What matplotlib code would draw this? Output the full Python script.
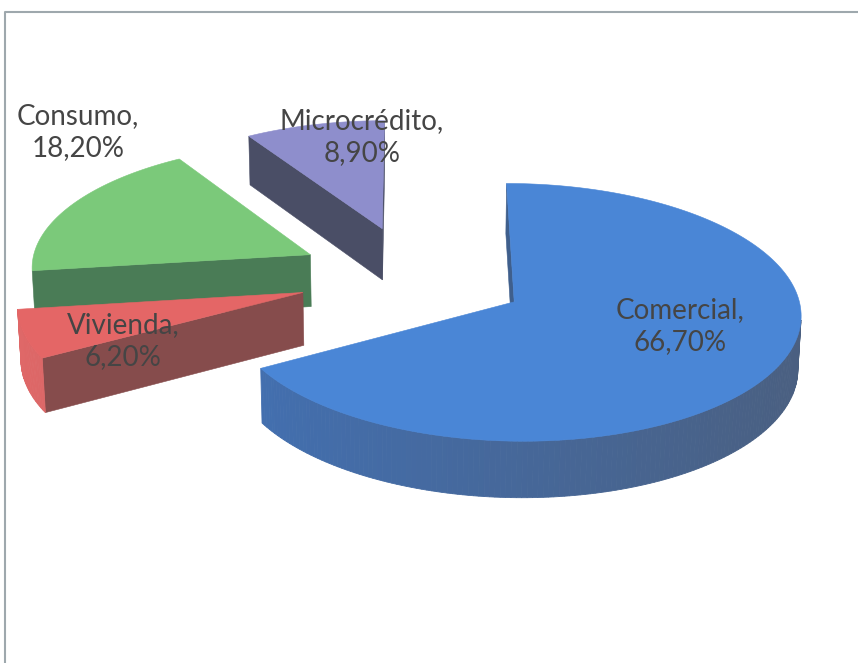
import numpy as np
import matplotlib.pyplot as plt
from matplotlib.colors import to_rgb
from matplotlib.patches import Polygon

# cartera por tipo de crédito (%)
categories = ['Comercial', 'Vivienda', 'Consumo', 'Microcrédito']
shares = [66.7, 6.2, 18.2, 8.9]
pct_labels = ['66,70%', '6,20%', '18,20%', '8,90%']

top_colors = ['#4a86d6', '#e46666', '#7bc97a', '#8e8ecc']
face_colors = ['#3f5f8c', '#864c4c', '#4a7c56', '#4a4e66']
rim_dark = ['#4a5f80', '#a05555', '#4a7c56', '#4a4e66']
rim_light = ['#4270b2', '#e06868', '#6fb86f', '#7c7cb8']
label_pos = [(680, 326), (123, 341), (78, 132), (362, 137)]

# 3D view
elev = np.radians(26.2)
dist = 11.2
focal = 280.5 * dist
thick = 0.21
explode = 0.41
cx, cy = 413, 276
cam = np.array([0.0, -dist * np.cos(elev), dist * np.sin(elev)])


def project(x, y, z):
    depth = dist + y * np.cos(elev) - z * np.sin(elev)
    u = y * np.sin(elev) + z * np.cos(elev)
    return cx + focal * x / depth, cy - focal * u / depth


def facing(normal, point):
    return np.dot(normal, cam - point) > 0


fig = plt.figure(figsize=(8.67, 6.63), dpi=100)
ax = fig.add_axes([0, 0, 1, 1])
ax.set_xlim(0, 867)
ax.set_ylim(663, 0)
ax.axis('off')

# slice angles: start at 12 o'clock, clockwise
ends = 90 - 360 * np.cumsum(shares) / 100
starts = np.concatenate([[90], ends[:-1]])

slices = []
for i in range(len(shares)):
    a_hi, a_lo = np.radians(starts[i]), np.radians(ends[i])
    mid = (a_hi + a_lo) / 2
    ox, oy = explode * np.cos(mid), explode * np.sin(mid)
    span = a_hi - a_lo
    r_c = 2 / 3 * np.sin(span / 2) / (span / 2)
    depth_key = oy + r_c * np.sin(mid)
    slices.append((depth_key, i, a_lo, a_hi, ox, oy))

# far slices first
slices.sort(key=lambda s: -s[0])

for _, i, a_lo, a_hi, ox, oy in slices:
    n = max(int(np.degrees(a_hi - a_lo) / 1.0), 4)
    t = np.linspace(a_lo, a_hi, n + 1)
    ax_top, ay_top = project(ox + np.cos(t), oy + np.sin(t), 0)
    ax_bot, ay_bot = project(ox + np.cos(t), oy + np.sin(t), -thick)
    tip_top = project(ox, oy, 0)
    tip_bot = project(ox, oy, -thick)
    tip3 = np.array([ox, oy, -thick / 2])

    # radial faces
    for ang, sgn in ((a_lo, -1), (a_hi, 1)):
        normal = np.array([np.cos(ang + sgn * np.pi / 2), np.sin(ang + sgn * np.pi / 2), 0])
        if facing(normal, tip3):
            ex, ey = np.cos(ang), np.sin(ang)
            p1 = project(ox + ex, oy + ey, 0)
            p2 = project(ox + ex, oy + ey, -thick)
            ax.add_patch(Polygon([tip_top, p1, p2, tip_bot], closed=True,
                                 facecolor=face_colors[i], edgecolor=face_colors[i],
                                 linewidth=0.4))

    # outer rim, shaded by where it faces
    dark = np.array(to_rgb(rim_dark[i]))
    light = np.array(to_rgb(rim_light[i]))
    for k in range(n):
        tm = (t[k] + t[k + 1]) / 2
        normal = np.array([np.cos(tm), np.sin(tm), 0])
        pt = np.array([ox + np.cos(tm), oy + np.sin(tm), -thick / 2])
        if not facing(normal, pt):
            continue
        w = np.clip(0.5 - 0.5 * np.cos(tm), 0, 1)
        col = dark + w * (light - dark)
        quad = [(ax_top[k], ay_top[k]), (ax_top[k + 1], ay_top[k + 1]),
                (ax_bot[k + 1], ay_bot[k + 1]), (ax_bot[k], ay_bot[k])]
        ax.add_patch(Polygon(quad, closed=True, facecolor=col, edgecolor=col,
                             linewidth=0.6))

    # top surface
    top = [tip_top] + list(zip(ax_top, ay_top))
    ax.add_patch(Polygon(top, closed=True, facecolor=top_colors[i],
                         edgecolor=top_colors[i], linewidth=0.4))

for i, name in enumerate(categories):
    x, y = label_pos[i]
    ax.text(x, y, f'{name},\n{pct_labels[i]}', ha='center', va='center',
            fontsize=20, family=['Lato', 'DejaVu Sans'], color='#454545',
            linespacing=1.3)

# chart frame
ax.plot([5, 5, 858], [663, 12, 12], color='#9ea8ad', linewidth=1.5,
        solid_capstyle='butt')

fig.savefig('out.png', dpi=100)
